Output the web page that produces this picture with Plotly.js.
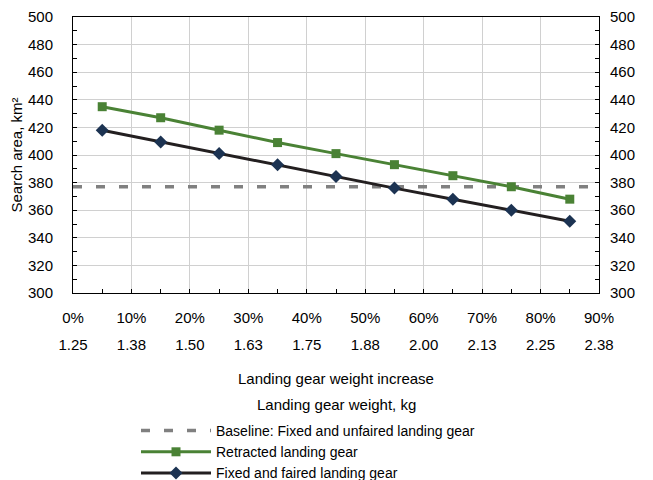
<!DOCTYPE html>
<html>
<head>
<meta charset="utf-8">
<script src="https://cdn.plot.ly/plotly-3.0.1.min.js"></script>
<style>html,body{margin:0;padding:0;background:#fff;}#chart{width:653px;height:480px;}</style>
</head>
<body>
<div id="chart"></div>
<script>
const weightIncrease = [0.05, 0.15, 0.25, 0.35, 0.45, 0.55, 0.65, 0.75, 0.85];
const retracted = [435, 427, 418, 409, 401, 393, 385, 377, 368];
const fixedFaired = [418, 409.5, 401, 393, 384.5, 376, 368, 360, 352];
const baselineX = [0, 0.9];
const baseline = [377, 377];
const pctTicks = [0, 0.1, 0.2, 0.3, 0.4, 0.5, 0.6, 0.7, 0.8, 0.9];
const kgLabels = ['1.25', '1.38', '1.50', '1.63', '1.75', '1.88', '2.00', '2.13', '2.25', '2.38'];
const yTicks = [300, 320, 340, 360, 380, 400, 420, 440, 460, 480, 500];

const FONT = 'Liberation Sans, Arial, sans-serif';
const FS = 15;
const green = '#4a8235';

const traces = [
  {x: baselineX, y: baseline, type: 'scatter', mode: 'lines', name: 'Baseline: Fixed and unfaired landing gear',
   line: {color: '#808080', width: 3.5, dash: '9px,14px'}},
  {x: weightIncrease, y: retracted, type: 'scatter', mode: 'lines+markers', name: 'Retracted landing gear',
   line: {color: green, width: 3}, marker: {symbol: 'square', size: 9, color: green}},
  {x: weightIncrease, y: fixedFaired, type: 'scatter', mode: 'lines+markers', name: 'Fixed and faired landing gear',
   line: {color: '#231f20', width: 3}, marker: {symbol: 'diamond', size: 10, color: '#1c3352'}},
  {x: baselineX, y: baseline, xaxis: 'x2', yaxis: 'y2', type: 'scatter', mode: 'lines', showlegend: false,
   hoverinfo: 'skip', line: {color: 'rgba(0,0,0,0)', width: 0}}
];

const PH = 463; // paper height (480 - 17 - 0)
const py = px => (480 - px) / PH;

const layout = {
  width: 653, height: 480,
  margin: {l: 73, r: 54, t: 17, b: 0, autoexpand: false},
  paper_bgcolor: '#fff', plot_bgcolor: '#fff',
  font: {family: FONT, size: FS, color: '#000'},
  showlegend: true,
  xaxis: {
    range: [0, 0.9], tickvals: pctTicks, tickformat: '.0%',
    showgrid: true, gridcolor: '#d0d0d0', gridwidth: 1,
    showline: true, linecolor: '#000', linewidth: 1, mirror: true,
    ticks: 'inside', ticklen: 4, tickcolor: '#000',
    minor: {dtick: 0.05, ticks: 'inside', ticklen: 4, tickcolor: '#000', showgrid: false},
    ticklabelstandoff: 11,
    zeroline: false, anchor: 'y', fixedrange: true, automargin: false
  },
  xaxis2: {
    overlaying: 'x', anchor: 'free', position: py(334), side: 'bottom',
    range: [0, 0.9], tickvals: pctTicks, ticktext: kgLabels,
    showgrid: false, showline: false, ticks: '', zeroline: false, fixedrange: true, automargin: false
  },
  yaxis: {
    domain: [py(293), 1], range: [300, 500], tickvals: yTicks,
    showgrid: true, gridcolor: '#d0d0d0', gridwidth: 1,
    showline: true, linecolor: '#000', linewidth: 1, mirror: true,
    ticks: 'inside', ticklen: 4, tickcolor: '#000',
    minor: {dtick: 10, ticks: 'inside', ticklen: 4, tickcolor: '#000', showgrid: false},
    ticklabelstandoff: 16,
    zeroline: false, fixedrange: true, automargin: false,
    title: {text: 'Search area, km²', font: {size: FS}, standoff: 1}
  },
  yaxis2: {
    overlaying: 'y', side: 'right', anchor: 'x', range: [300, 500], tickvals: yTicks,
    showgrid: false, showline: false, zeroline: false,
    ticks: 'inside', ticklen: 4, tickcolor: '#000',
    minor: {dtick: 10, ticks: 'inside', ticklen: 4, tickcolor: '#000', showgrid: false},
    ticklabelstandoff: 10,
    fixedrange: true, automargin: false
  },
  annotations: [
    {text: 'Landing gear weight increase', xref: 'paper', yref: 'paper', x: 0.5, y: py(378),
     xanchor: 'center', yanchor: 'middle', showarrow: false, font: {size: FS}},
    {text: 'Landing gear weight, kg', xref: 'paper', yref: 'paper', x: 0.5, y: py(404),
     xanchor: 'center', yanchor: 'middle', showarrow: false, font: {size: FS}}
  ],
  legend: {
    orientation: 'v', x: (136 - 73) / 526, xanchor: 'left', y: py(415), yanchor: 'top',
    itemwidth: 70, bgcolor: 'rgba(0,0,0,0)', font: {size: 14}, tracegroupgap: 0
  }
};

Plotly.newPlot('chart', traces, layout, {displayModeBar: false, staticPlot: true});
</script>
</body>
</html>
